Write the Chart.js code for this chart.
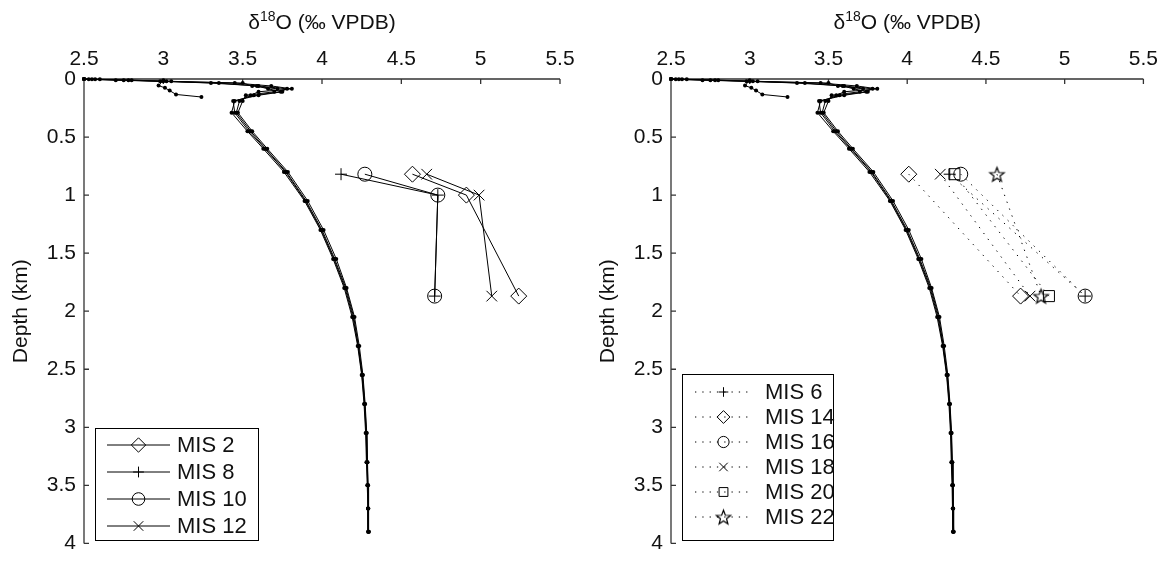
<!DOCTYPE html>
<html>
<head>
<meta charset="utf-8">
<script src="https://cdn.jsdelivr.net/npm/chart.js@4.4.1/dist/chart.umd.min.js"></script>
<style>
html, body { margin: 0; padding: 0; background: #fff; }
#wrap { position: relative; width: 1165px; height: 564px; }
#cLeft { position: absolute; left: 0; top: 0; }
#cRight { position: absolute; left: 582px; top: 0; }
</style>
</head>
<body>
<div id="wrap">
  <canvas id="cLeft" width="582" height="564"></canvas>
  <canvas id="cRight" width="583" height="564"></canvas>
</div>
<script>
// Eixos
const d18OTicks = [2.5, 3, 3.5, 4, 4.5, 5, 5.5];
const depthTicks = [0, 0.5, 1, 1.5, 2, 2.5, 3, 3.5, 4];

// Perfis (depth km -> d18O)
const profileDepth = [0, 0.003, 0.01, 0.02, 0.035, 0.06, 0.085, 0.11, 0.14, 0.19, 0.29, 0.45, 0.6, 0.8, 1.05, 1.3, 1.55, 1.8, 2.05, 2.3, 2.55, 2.8, 3.05, 3.3, 3.5, 3.7, 3.9];
const profileA = [2.5, 2.55, 2.75, 3.0, 3.3, 3.6, 3.78, 3.74, 3.57, 3.45, 3.43, 3.53, 3.63, 3.76, 3.89, 3.99, 4.07, 4.14, 4.19, 4.225, 4.25, 4.265, 4.275, 4.28, 4.285, 4.29, 4.29];
const profileB = [2.5, 2.6, 2.8, 3.05, 3.45, 3.68, 3.81, 3.6, 3.55, 3.48, 3.46, 3.55, 3.645, 3.775, 3.9, 4.0, 4.08, 4.15, 4.2, 4.23, 4.255, 4.27, 4.28, 4.285, 4.29, 4.29, 4.295];
const profileC = [2.5, 2.53, 2.7, 2.98, 3.35, 3.59, 3.66, 3.75, 3.6, 3.44, 3.45, 3.54, 3.64, 3.77, 3.895, 3.995, 4.075, 4.145, 4.195, 4.228, 4.252, 4.268, 4.278, 4.283, 4.288, 4.29, 4.292];
const profileD = [2.5, 2.57, 2.78, 3.02, 3.5, 3.56, 3.72, 3.7, 3.52, 3.5, 3.47, 3.56, 3.655, 3.785, 3.91, 4.01, 4.09, 4.155, 4.205, 4.235, 4.258, 4.272, 4.282, 4.287, 4.29, 4.292, 4.295];
const branchDepth = [0.01, 0.057, 0.076, 0.10, 0.133, 0.155];
const branchVals = [3.0, 2.97, 3.01, 3.04, 3.08, 3.24];

// Painel esquerdo
const depthLeft = [0.82, 1.0, 1.87];
const mis2 = [4.57, 4.91, 5.24];
const mis8 = [4.12, 4.73, 4.71];
const mis10 = [4.27, 4.73, 4.71];
const mis12 = [4.66, 4.99, 5.07];

// Painel direito
const depthRight = [0.82, 1.87];
const mis6 = [4.27, 5.13];
const mis14 = [4.01, 4.72];
const mis16 = [4.34, 5.13];
const mis18 = [4.21, 4.78];
const mis20 = [4.30, 4.90];
const mis22 = [4.57, 4.85];

const FONT = "'Liberation Sans', Arial, sans-serif";

function pts(vals, depths){ return vals.map((v,i)=>({x:v, y:depths[i]})); }

// estrela vazada
function starImage(r){
    const c = document.createElement('canvas');
    const s = Math.ceil(r*2+4);
    c.width = s; c.height = s;
    const g = c.getContext('2d');
    g.strokeStyle = '#000'; g.lineWidth = 1.2;
    g.beginPath();
    for(let i=0;i<10;i++){
        const rr = i%2===0 ? r : r*0.42;
        const a = -Math.PI/2 + i*Math.PI/5;
        const px = s/2 + rr*Math.cos(a), py = s/2 + rr*Math.sin(a) + 0.8;
        if(i===0) g.moveTo(px,py); else g.lineTo(px,py);
    }
    g.closePath(); g.stroke();
    return c;
}

function profileSets(){
    const base = {showLine:true, borderColor:'#000', borderWidth:1, pointRadius:2, pointBackgroundColor:'#000', pointBorderColor:'#000', pointBorderWidth:0, clip:false};
    return [profileA, profileB, profileC, profileD].map(p=>Object.assign({data:pts(p, profileDepth)}, base))
        .concat([Object.assign({data:pts(branchVals, branchDepth)}, base)]);
}

function misSet(label, vals, depths, style, radius, dashed){
    return {label, inLegend:true, data:pts(vals, depths), showLine:true, borderColor:'#000', borderWidth:1,
        borderDash: dashed ? [1.3, 6] : [], pointStyle:style, pointRadius:radius, pointHoverRadius:radius,
        pointBorderColor:'#000', pointBackgroundColor:'rgba(0,0,0,0)', pointBorderWidth:1, clip:false};
}

const framePlugin = {
    id:'frame',
    beforeDatasetsDraw(chart){
        const {ctx, chartArea:a, scales:{x, y}} = chart;
        ctx.save();
        ctx.strokeStyle = '#333'; ctx.lineWidth = 1.3;
        ctx.beginPath();
        ctx.moveTo(a.left, a.bottom); ctx.lineTo(a.left, a.top); ctx.lineTo(a.right, a.top);
        x.ticks.forEach(t=>{ const p = x.getPixelForValue(t.value); ctx.moveTo(p, a.top); ctx.lineTo(p, a.top+5); });
        y.ticks.forEach(t=>{ const p = y.getPixelForValue(t.value); ctx.moveTo(a.left, p); ctx.lineTo(a.left+5, p); });
        ctx.stroke();
        // titulo do eixo x com sobrescrito
        ctx.fillStyle = '#111';
        ctx.textBaseline = 'alphabetic';
        const big = '21px ' + FONT, small = '14px ' + FONT;
        const parts = [['\u03b4', big, 0], ['18', small, -8], ['O (\u2030 VPDB)', big, 0]];
        let w = 0;
        parts.forEach(p=>{ ctx.font = p[1]; w += ctx.measureText(p[0]).width; });
        let cx = (a.left + a.right)/2 - w/2;
        const by = 29;
        parts.forEach(p=>{ ctx.font = p[1]; ctx.fillText(p[0], cx, by + p[2]); cx += ctx.measureText(p[0]).width; });
        // titulo do eixo y
        ctx.font = big;
        ctx.translate(a.left - 63, (a.top + a.bottom)/2);
        ctx.rotate(-Math.PI/2);
        ctx.textAlign = 'center'; ctx.textBaseline = 'middle';
        ctx.fillText('Depth (km)', 0, 0);
        ctx.restore();
    }
};

const legendPlugin = {
    id:'misLegend',
    afterDatasetsDraw(chart, args, o){
        const ctx = chart.ctx;
        ctx.save();
        ctx.fillStyle = '#fff';
        ctx.fillRect(o.box[0], o.box[1], o.box[2], o.box[3]);
        ctx.strokeStyle = '#000'; ctx.lineWidth = 1;
        ctx.strokeRect(o.box[0]+0.5, o.box[1]+0.5, o.box[2], o.box[3]);
        let row = 0;
        chart.data.datasets.forEach(ds=>{
            if(!ds.inLegend) return;
            const yy = o.rowY + row*o.rowStep;
            ctx.strokeStyle = '#000'; ctx.lineWidth = 1;
            ctx.setLineDash(ds.borderDash);
            ctx.beginPath(); ctx.moveTo(o.sample[0], yy); ctx.lineTo(o.sample[1], yy); ctx.stroke();
            ctx.setLineDash([]);
            ctx.fillStyle = 'rgba(0,0,0,0)';
            Chart.helpers.drawPoint(ctx, {pointStyle:ds.pointStyle, radius:ds.pointRadius*o.markScale, rotation:0, borderWidth:1}, (o.sample[0]+o.sample[1])/2, yy);
            ctx.fillStyle = '#111';
            ctx.font = '22px ' + FONT;
            ctx.textAlign = 'left'; ctx.textBaseline = 'middle';
            ctx.fillText(ds.label, o.textX, yy + 1);
            row++;
        });
        ctx.restore();
    }
};

function makeChart(id, datasets, yWidth, padRight, legend){
    return new Chart(document.getElementById(id), {
        type:'scatter',
        data:{datasets},
        plugins:[framePlugin, legendPlugin],
        options:{
            responsive:false, animation:false, devicePixelRatio:1,
            layout:{padding:{left:0, right:padRight, top:0, bottom:13}},
            plugins:{legend:{display:false}, tooltip:{enabled:false}, misLegend:legend},
            scales:{
                x:{type:'linear', position:'top', min:2.5, max:5.5,
                    afterBuildTicks:s=>{ s.ticks = d18OTicks.map(v=>({value:v})); },
                    afterFit:s=>{ s.height = 79; },
                    grid:{display:false, drawTicks:false}, border:{display:false},
                    ticks:{padding:7, color:'#111', font:{family:FONT, size:21}, autoSkip:false, maxRotation:0, callback:v=>String(v)}},
                y:{type:'linear', reverse:true, min:0, max:4,
                    afterBuildTicks:s=>{ s.ticks = depthTicks.map(v=>({value:v})); },
                    afterFit:s=>{ s.width = yWidth; },
                    grid:{display:false, drawTicks:false}, border:{display:false},
                    ticks:{padding:8, color:'#111', font:{family:FONT, size:21}, autoSkip:false, callback:v=>String(v)}}
            }
        }
    });
}

const star = starImage(7.5);

makeChart('cLeft', profileSets().concat([
    misSet('MIS 2', mis2, depthLeft, 'rectRot', 8, false),
    misSet('MIS 8', mis8, depthLeft, 'cross', 6, false),
    misSet('MIS 10', mis10, depthLeft, 'circle', 7, false),
    misSet('MIS 12', mis12, depthLeft, 'crossRot', 7.5, false)
]), 84, 22, {box:[95, 428, 163, 112], rowY:445, rowStep:27, sample:[107, 170], textX:177, markScale:0.9});

makeChart('cRight', profileSets().concat([
    misSet('MIS 6', mis6, depthRight, 'cross', 6, true),
    misSet('MIS 14', mis14, depthRight, 'rectRot', 8, true),
    misSet('MIS 16', mis16, depthRight, 'circle', 7, true),
    misSet('MIS 18', mis18, depthRight, 'crossRot', 7.5, true),
    misSet('MIS 20', mis20, depthRight, 'rect', 7.8, true),
    misSet('MIS 22', mis22, depthRight, star, 7.5, true)
]), 89, 19, {box:[100, 374, 151, 166], rowY:392, rowStep:25, sample:[113, 170], textX:183, markScale:0.8});
</script>
</body>
</html>
